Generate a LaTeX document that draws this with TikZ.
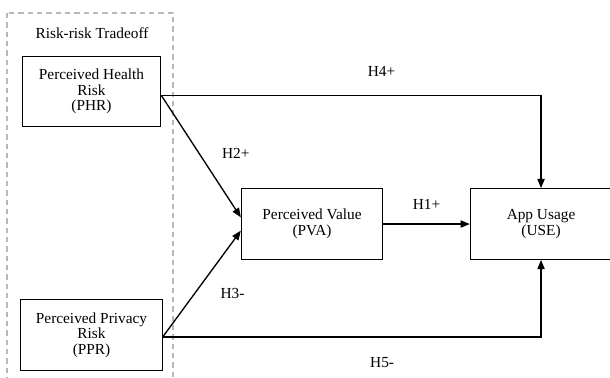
\documentclass[tikz,border=0pt]{standalone}
\usepackage{fontspec}
\setmainfont{Liberation Serif}
\usetikzlibrary{positioning, arrows.meta}
\tikzset{
	>={Triangle[length=7pt, width=5.5pt]}, % filled heads on the paths
	every node/.style={font=\fontsize{11.5}{11.6}\selectfont},
	construct/.style={draw, line width=0.8pt, align=center, inner sep=0pt, minimum width=106pt, minimum height=53pt}, % one box per construct
	hyp/.style={inner sep=0pt}, % hypothesis labels
	link/.style={->, line width=1pt},
}

\begin{document}
\begin{tikzpicture}[x=0.75pt, y=-0.75pt, node distance=3cm, on grid]
		\useasboundingbox (0,0) rectangle (610,378);

		% Risk-risk tradeoff group
		\draw[dashed, dash pattern=on 4pt off 3pt, black!28, line width=0.8pt] (7,13) rectangle (173,392);
		\node (tradeoff) at (92,33) {Risk-risk Tradeoff};

		% Define constructs
		\node[construct, minimum width=104pt] (phr) at (91.5,91.5) {Perceived Health\\Risk\\(PHR)};
		\node[construct, below=182.6pt of phr] (ppr) {Perceived Privacy\\Risk\\(PPR)};
		\node[construct, below right=99.4pt and 165.4pt of phr] (pva) {Perceived Value\\(PVA)};
		\node[construct, right=171.75pt of pva] (use) {App Usage\\(USE)};

		% Hypotheses
		\path[link]
		([yshift=-3pt]phr.east) edge node[hyp, xshift=26pt, yshift=2pt] {H2+} ([yshift=5pt]pva.west)
		([yshift=-1.5pt]ppr.east) edge node[hyp, xshift=23pt, yshift=-7pt] {H3-} ([yshift=-5pt]pva.west)
		(pva) edge node[hyp, yshift=15pt] {H1+} (use);
		\draw[link] ([yshift=-3pt]phr.east) -| node[hyp, pos=0.29, yshift=18pt] {H4+} (use.north);
		\draw[link] ([yshift=-1.5pt]ppr.east) -| node[hyp, pos=0.29, yshift=-19pt] {H5-} (use.south);

	\end{tikzpicture}
\end{document}
